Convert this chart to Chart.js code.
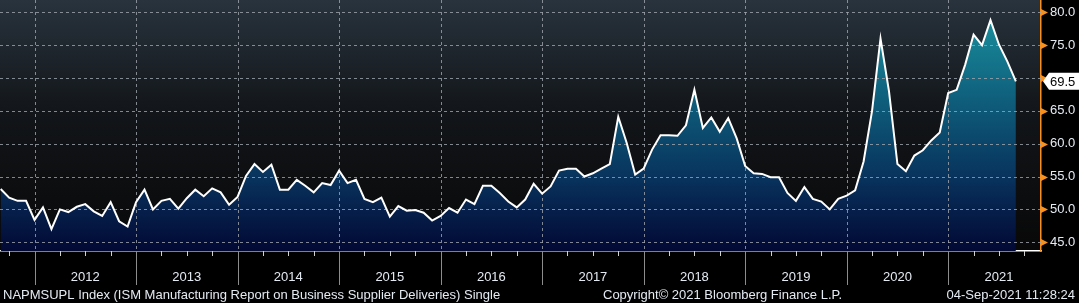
<!DOCTYPE html>
<html>
<head>
<meta charset="utf-8">
<script src="https://cdn.jsdelivr.net/npm/chart.js@4.4.0/dist/chart.umd.min.js"></script>
<style>
  html, body { margin: 0; padding: 0; background: #000; }
  #wrap { width: 1079px; height: 303px; }
</style>
</head>
<body>
<div id="wrap"><canvas id="myChart" width="1079" height="303"></canvas></div>
<script>
// ISM supplier deliveries, month-end readings, Aug 2011 .. Aug 2021
const firstYear = 2011;
const firstMonth = 8;
const values = [
  53.1, 51.8, 51.3, 51.3, 48.4,
  50.3, 47.0, 50.0, 49.6, 50.4, 50.8, 49.7, 49.0, 51.1, 48.2, 47.4, 51.1,
  53.0, 50.0, 51.3, 51.6, 50.1, 51.7, 53.0, 52.0, 53.2, 52.6, 50.7, 51.9,
  55.1, 56.9, 55.7, 56.8, 53.0, 53.0, 54.5, 53.6, 52.6, 54.0, 53.7, 55.9,
  54.0, 54.5, 51.6, 51.1, 51.8, 48.9, 50.5, 49.8, 49.9, 49.5, 48.3, 49.0,
  50.2, 49.5, 51.5, 50.8, 53.6, 53.6, 52.5, 51.2, 50.3, 51.5, 53.9, 52.4,
  53.5, 55.9, 56.2, 56.2, 55.0, 55.5, 56.2, 56.9, 64.1, 60.1, 55.3, 56.2,
  59.1, 61.3, 61.3, 61.2, 62.8, 68.2, 62.4, 64.0, 61.8, 63.9, 60.8, 56.6,
  55.5, 55.4, 54.9, 54.9, 52.5, 51.3, 53.4, 51.6, 51.2, 50.0, 51.6, 52.1,
  52.9, 57.3, 65.0, 76.0, 68.0, 56.9, 55.8, 58.2, 59.0, 60.5, 61.7, 67.7,
  68.2, 72.0, 76.6, 75.0, 78.8, 75.1, 72.5, 69.5
];
const yearLabels = ['2012', '2013', '2014', '2015', '2016', '2017', '2018', '2019', '2020', '2021'];
const yTicks = [45, 50, 55, 60, 65, 70, 75, 80];
const footerLeft = 'NAPMSUPL Index (ISM Manufacturing Report on Business Supplier Deliveries) Single';
const footerMid = 'Copyright\u00A9 2021 Bloomberg Finance L.P.';
const footerRight = '04-Sep-2021 11:28:24';

const FONT = "'Liberation Sans', Arial, sans-serif";
const TEXT = '#e4eaf2';
const ORANGE = '#f7901e';
const GRID = 'rgba(160,165,172,0.8)';

// index of the first month-end point in 2012 (end of Dec 2011)
const jan2012 = (2012 - firstYear) * 12 - firstMonth;

const points = values.map((v, i) => ({ x: i, y: v }));

const decor = {
  id: 'decor',
  beforeDraw(chart) {
    const { ctx, chartArea: ca, width, height } = chart;
    ctx.save();
    ctx.fillStyle = '#000';
    ctx.fillRect(0, 0, width, height);
    const g = ctx.createLinearGradient(0, ca.top, 0, ca.bottom);
    g.addColorStop(0, '#28333d');
    g.addColorStop(0.45, '#121519');
    g.addColorStop(1, '#080808');
    ctx.fillStyle = g;
    ctx.fillRect(ca.left, ca.top, ca.right - ca.left, ca.bottom - ca.top);
    ctx.restore();
  },
  // dashed grid goes over the area fill but under the white line
  afterDatasetDraw(chart, args) {
    if (args.index !== 1) return;
    const { ctx, chartArea: ca, scales } = chart;
    ctx.save();
    ctx.strokeStyle = GRID;
    ctx.lineWidth = 1;
    ctx.setLineDash([3, 3]);
    scales.y.ticks.forEach(t => {
      if (t.value % 5 !== 0) return;
      const py = Math.round(scales.y.getPixelForValue(t.value)) + 0.5;
      ctx.beginPath();
      ctx.moveTo(ca.left, py);
      ctx.lineTo(ca.right, py);
      ctx.stroke();
    });
    scales.x.ticks.forEach(t => {
      if ((t.value - jan2012) % 12 !== 0) return;
      const px = Math.round(scales.x.getPixelForValue(t.value)) + 0.5;
      ctx.beginPath();
      ctx.moveTo(px, ca.top);
      ctx.lineTo(px, ca.bottom);
      ctx.stroke();
    });
    ctx.restore();
  },
  afterDraw(chart) {
    const { ctx, chartArea: ca, scales } = chart;
    const xs = scales.x, ys = scales.y;
    ctx.save();
    // quarter ticks and year separators under the x axis
    xs.ticks.forEach(t => {
      const px = Math.round(xs.getPixelForValue(t.value)) + 0.5;
      const isYear = (t.value - jan2012) % 12 === 0;
      ctx.strokeStyle = isYear ? '#8c8c8c' : '#d0d0d0';
      ctx.lineWidth = 1;
      ctx.beginPath();
      ctx.moveTo(px, ca.bottom);
      ctx.lineTo(px, ca.bottom + (isYear ? 34 : 5));
      ctx.stroke();
    });
    // orange marks on the value axis
    ys.ticks.forEach(t => {
      const py = Math.round(ys.getPixelForValue(t.value)) + 0.5;
      ctx.fillStyle = ORANGE;
      ctx.strokeStyle = ORANGE;
      if (t.value % 5 === 0) {
        ctx.beginPath();
        ctx.moveTo(ca.right, py - 3.5);
        ctx.lineTo(ca.right + 7, py);
        ctx.lineTo(ca.right, py + 3.5);
        ctx.closePath();
        ctx.fill();
      } else {
        ctx.beginPath();
        ctx.moveTo(ca.right, py);
        ctx.lineTo(ca.right + 4, py);
        ctx.stroke();
      }
    });
    // last value tag
    const last = values[values.length - 1];
    const ly = ys.getPixelForValue(last);
    const x0 = ca.right + 2, x1 = x0 + 6, x2 = chart.width;
    ctx.fillStyle = '#ffffff';
    ctx.beginPath();
    ctx.moveTo(x0, ly);
    ctx.lineTo(x1, ly - 8.5);
    ctx.lineTo(x2, ly - 8.5);
    ctx.lineTo(x2, ly + 8.5);
    ctx.lineTo(x1, ly + 8.5);
    ctx.closePath();
    ctx.fill();
    ctx.fillStyle = '#000';
    ctx.font = '13px ' + FONT;
    ctx.textBaseline = 'middle';
    ctx.textAlign = 'left';
    ctx.fillText(last.toFixed(1), ca.right + 9, ly + 1);
    // footer
    ctx.fillStyle = TEXT;
    ctx.font = '13px ' + FONT;
    ctx.textBaseline = 'middle';
    ctx.textAlign = 'left';
    ctx.fillText(footerLeft, 3, 295);
    ctx.fillText(footerMid, 603, 295);
    ctx.textAlign = 'right';
    ctx.fillText(footerRight, 1075, 295);
    ctx.restore();
  }
};

const areaFill = (c) => {
  const ca = c.chart.chartArea;
  if (!ca) return 'rgba(0,0,0,0)';
  const g = c.chart.ctx.createLinearGradient(0, ca.top, 0, ca.bottom);
  g.addColorStop(0, '#1c98a3');
  g.addColorStop(0.42, '#0e5b79');
  g.addColorStop(0.72, '#08315b');
  g.addColorStop(1, '#020834');
  return g;
};

new Chart(document.getElementById('myChart'), {
  type: 'line',
  data: {
    datasets: [
      { data: points, borderColor: '#ffffff', borderWidth: 2, pointRadius: 0, tension: 0, fill: false },
      { data: points, borderWidth: 0, pointRadius: 0, tension: 0, fill: 'start', backgroundColor: areaFill }
    ]
  },
  options: {
    responsive: false,
    animation: false,
    devicePixelRatio: 1,
    layout: { padding: { left: 0, right: 0, top: 0, bottom: 18 } },
    plugins: { legend: { display: false }, tooltip: { enabled: false } },
    scales: {
      x: {
        type: 'linear',
        min: -0.08,
        max: 122.97,
        afterBuildTicks: (s) => {
          const t = [];
          for (let v = jan2012 - 3; v <= s.max; v += 3) t.push({ value: v });
          s.ticks = t;
        },
        afterFit: (s) => { s.height = 34; s.paddingLeft = 0; s.paddingRight = 0; },
        ticks: {
          autoSkip: false,
          maxRotation: 0,
          padding: 19,
          color: TEXT,
          font: { family: FONT, size: 13 },
          callback: (v) => {
            const k = (v - jan2012 - 6) / 12;
            return Number.isInteger(k) && yearLabels[k] ? yearLabels[k] : '';
          }
        },
        grid: { display: false, drawTicks: false },
        border: { display: true, color: '#ffffff', width: 1.5 }
      },
      y: {
        position: 'right',
        min: 43.67,
        max: 81.87,
        afterBuildTicks: (s) => {
          const t = [];
          yTicks.forEach((v, i) => {
            t.push({ value: v });
            if (i < yTicks.length - 1) t.push({ value: v + 2.5 });
          });
          s.ticks = t;
        },
        afterFit: (s) => { s.width = 38; s.paddingTop = 0; s.paddingBottom = 0; },
        ticks: {
          padding: 9,
          color: TEXT,
          font: { family: FONT, size: 13 },
          callback: (v) => (v % 5 === 0 ? v.toFixed(1) : '')
        },
        grid: { display: false, drawTicks: false },
        border: { display: true, color: ORANGE, width: 1.5 }
      }
    }
  },
  plugins: [decor]
});
</script>
</body>
</html>
